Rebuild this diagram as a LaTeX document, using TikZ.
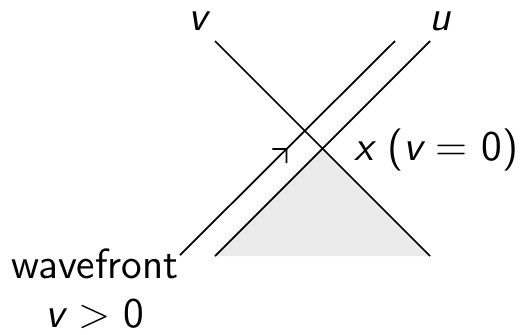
\documentclass[tikz,border=0pt]{standalone}
\usepackage{tikz}
\usetikzlibrary{arrows.meta, positioning, decorations.markings}

\begin{document}
\begin{tikzpicture}[line width=0.5pt, every node/.style={font=\large\sffamily}]
  \useasboundingbox (0,0) rectangle (5.23,3.34);
  % Characteristics through x
  \coordinate (vtop) at (2.15,2.93);
  \coordinate (vbot) at (4.30,0.78);
  \coordinate (utop) at (4.30,2.93);
  \coordinate (ubot) at (2.15,0.78);
  \coordinate (x) at (3.225,1.855);
  % Wavefront
  \coordinate (wtop) at (3.95,2.93);
  \coordinate (wbot) at (1.80,0.79);
  % Shaded region
  \fill[black!8] (x) -- (ubot) -- (vbot) -- cycle;
  \draw (vtop) -- (vbot);
  \draw (utop) -- (ubot);
  \draw[postaction={decorate}, decoration={markings,
      mark=at position 0.5 with {\arrow{Straight Barb[length=1mm]}}}] (wbot) -- (wtop);
  % Labels
  \node (vlabel) at (1.98,3.13) {\itshape v};
  \node (ulabel) at (4.40,3.13) {\itshape u};
  \node[anchor=west] (xlabel) at (3.42,1.84) {{\itshape x} ({\itshape v} = 0)};
  \node[align=center] (wavefront) at (0.95,0.45) {wavefront\\{\itshape v} > 0};
\end{tikzpicture}
\end{document}
